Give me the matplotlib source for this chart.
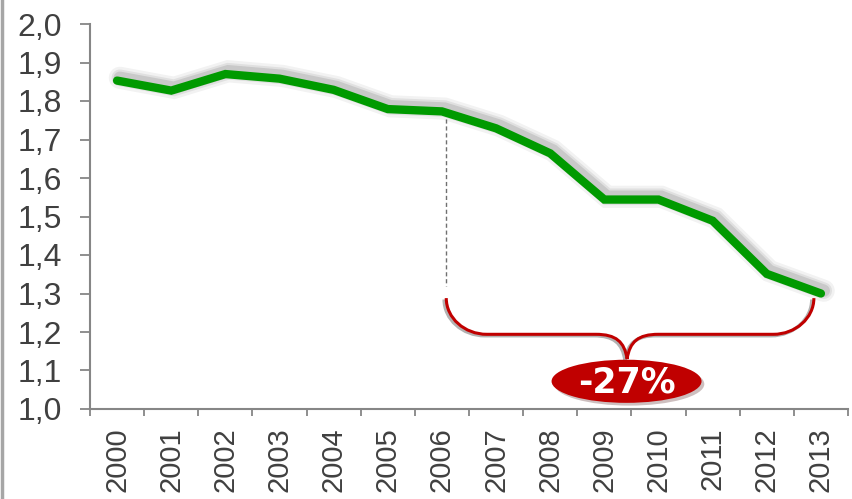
import numpy as np
import matplotlib
matplotlib.use("Agg")
import matplotlib.pyplot as plt
import matplotlib.patheffects as pe
from matplotlib.path import Path
from matplotlib.patches import PathPatch, Ellipse
from matplotlib.lines import Line2D

# data
years = ["2000", "2001", "2002", "2003", "2004", "2005", "2006",
         "2007", "2008", "2009", "2010", "2011", "2012", "2013"]
values = [1.853, 1.827, 1.870, 1.858, 1.829, 1.779, 1.773,
          1.729, 1.664, 1.544, 1.544, 1.489, 1.351, 1.300]
y_ticks = [1.0, 1.1, 1.2, 1.3, 1.4, 1.5, 1.6, 1.7, 1.8, 1.9, 2.0]
y_labels = ["1,0", "1,1", "1,2", "1,3", "1,4", "1,5", "1,6",
            "1,7", "1,8", "1,9", "2,0"]
change_label = "-27%"

plt.rcParams["font.family"] = ["Liberation Sans", "DejaVu Sans"]

GREEN = "#009a00"
RED = "#c00000"
AXIS = "#868686"
TEXT = "#404040"

fig = plt.figure(figsize=(8.52, 4.99), dpi=100)
ax = fig.add_axes([90 / 852, 90 / 499, 758 / 852, (409 - 24) / 499])

x = np.arange(len(years))

# soft grey shadow under the line
shadow = [pe.SimpleLineShadow(offset=(2, 2), shadow_color="black", alpha=a, linewidth=w)
          for a, w in [(0.05, 16), (0.07, 12), (0.10, 9)]]
ax.plot(x, values, color=GREEN, lw=6, solid_capstyle="round", solid_joinstyle="miter",
        path_effects=shadow + [pe.Normal()], zorder=3)

# dashed marker from 2006 value down to brace
x_left, x_right = 6.08, 12.87
ax.plot([x_left, x_left], [1.772, 1.32], color="#707070", lw=1, ls=(0, (3, 2)), zorder=2)

# brace under the 2006-2013 span
y_top, y_mid, y_tip = 1.288, 1.194, 1.13
x_tip = 9.42
rx = 0.75
cx = 0.58
verts = [
    (x_left, y_top),
    (x_left, y_top - 0.55 * (y_top - y_mid)), (x_left + 0.45 * rx, y_mid), (x_left + rx, y_mid),
    (x_tip - cx, y_mid),
    (x_tip - 0.35 * cx, y_mid), (x_tip - 0.05, y_mid - 0.3 * (y_mid - y_tip)), (x_tip, y_tip),
    (x_tip + 0.05, y_mid - 0.3 * (y_mid - y_tip)), (x_tip + 0.35 * cx, y_mid), (x_tip + cx, y_mid),
    (x_right - rx, y_mid),
    (x_right - 0.45 * rx, y_mid), (x_right, y_top - 0.55 * (y_top - y_mid)), (x_right, y_top),
]
codes = [Path.MOVETO,
         Path.CURVE4, Path.CURVE4, Path.CURVE4,
         Path.LINETO,
         Path.CURVE4, Path.CURVE4, Path.CURVE4,
         Path.CURVE4, Path.CURVE4, Path.CURVE4,
         Path.LINETO,
         Path.CURVE4, Path.CURVE4, Path.CURVE4]
brace = Path(verts, codes)
ax.add_patch(PathPatch(brace, facecolor="none", edgecolor=RED, lw=2.2, zorder=4,
                       path_effects=[pe.SimpleLineShadow(offset=(-1.5, -1), shadow_color="gray",
                                                         alpha=0.6, linewidth=2.5),
                                     pe.Normal()]))

# label bubble
ell = Ellipse((9.41, 1.072), 2.77, 0.112, facecolor=RED, edgecolor="none", zorder=5,
              path_effects=[pe.SimplePatchShadow(offset=(2, -2), alpha=0.25), pe.Normal()])
ax.add_patch(ell)
ax.text(9.41, 1.069, change_label, color="white", fontsize=25, fontweight="bold",
        family="DejaVu Sans", ha="center", va="center", zorder=6)

# axes styling
ax.set_xlim(-0.5, len(years) - 0.5)
ax.set_ylim(1.0, 2.0)
ax.set_yticks(y_ticks)
ax.set_yticklabels(y_labels)
ax.set_xticks(np.arange(-0.5, len(years)), minor=False)
ax.set_xticklabels([])
ax.set_xticks(x, minor=True)
ax.set_xticklabels(years, minor=True, rotation=90)

for side in ["top", "right"]:
    ax.spines[side].set_visible(False)
for side in ["left", "bottom"]:
    ax.spines[side].set_color(AXIS)
    ax.spines[side].set_linewidth(1.5)

ax.tick_params(axis="y", colors=AXIS, length=7, width=1.3, pad=13, labelsize=23, labelcolor=TEXT)
ax.tick_params(axis="x", which="major", colors=AXIS, length=5, width=1.3)
ax.tick_params(axis="x", which="minor", length=0, pad=13, labelsize=21, labelcolor=TEXT)

# thin frame line on the left edge of the slide
fig.add_artist(Line2D([2 / 852, 2 / 852], [0, 1], transform=fig.transFigure,
                      color="#a6a6a6", lw=2.5))

fig.savefig("out.png", dpi=100)
